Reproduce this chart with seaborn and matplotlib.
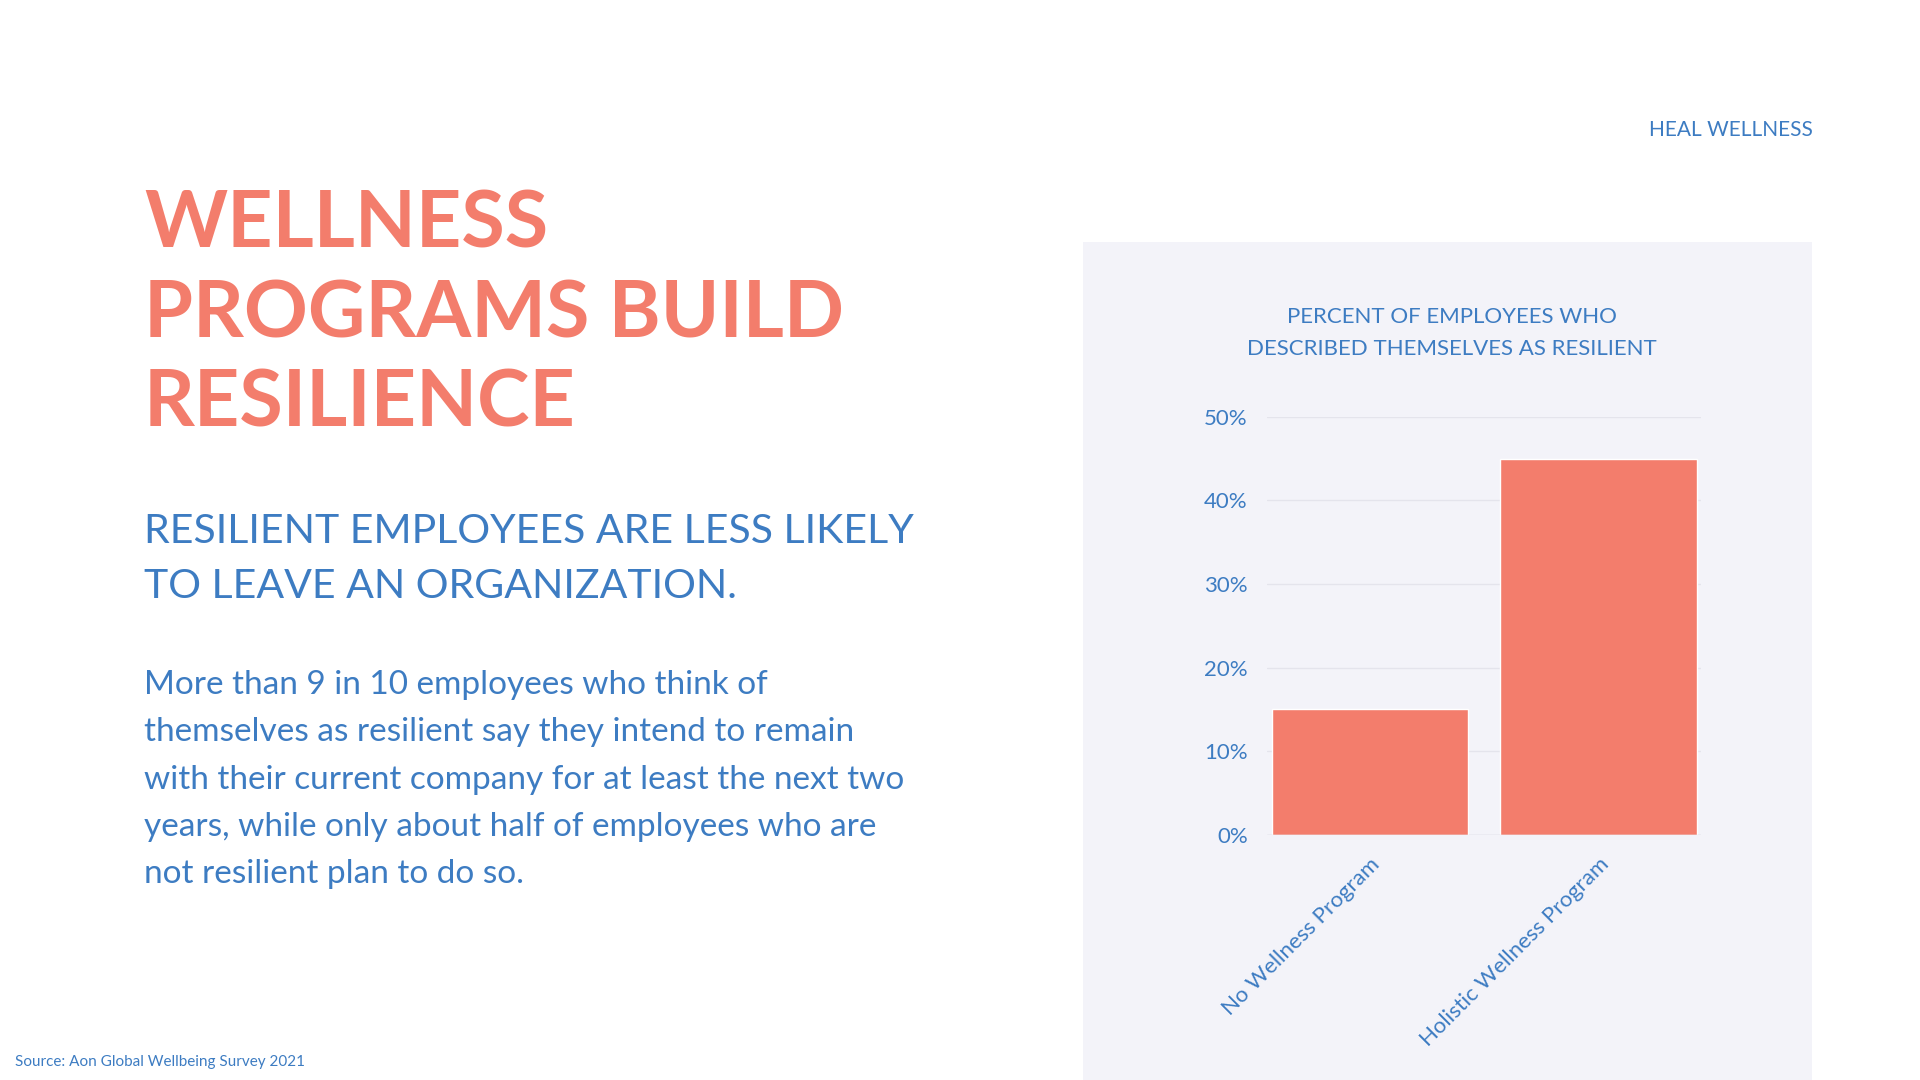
import matplotlib
matplotlib.use("Agg")
import matplotlib.pyplot as plt
import seaborn as sns
import pandas as pd

categories = ["No Wellness Program", "Holistic Wellness Program"]
values = [15, 45]
yticks = [0, 10, 20, 30, 40, 50]

coral = "#F37D6C"
blue = "#3D7CC2"

sns.set_theme(style="white")
plt.rcParams['font.family'] = ['Lato', 'DejaVu Sans']

fig = plt.figure(figsize=(19.2, 10.8), dpi=100)
fig.patch.set_facecolor("#FFFFFF")

# grey panel behind the chart
panel = fig.add_axes([0.564, 0.0, 0.38, 0.776], zorder=0)
panel.set_facecolor("#F3F3F9")
panel.set_xticks([])
panel.set_yticks([])
for s in panel.spines.values():
    s.set_visible(False)

fig.text(0.944, 0.88, "HEAL WELLNESS", color=blue, fontsize=15, ha="right", va="center")
fig.text(0.075, 0.708, "WELLNESS\nPROGRAMS BUILD\nRESILIENCE", color=coral, fontsize=57,
         fontweight="bold", ha="left", va="center", linespacing=1.3)
fig.text(0.075, 0.482, "RESILIENT EMPLOYEES ARE LESS LIKELY\nTO LEAVE AN ORGANIZATION.", color=blue,
         fontsize=29.5, ha="left", va="center", linespacing=1.6)
fig.text(0.075, 0.278, "More than 9 in 10 employees who think of\nthemselves as resilient say they intend to remain\n"
         "with their current company for at least the next two\nyears, while only about half of employees who are\n"
         "not resilient plan to do so.", color=blue, fontsize=24, ha="left", va="center", linespacing=1.72)
fig.text(0.008, 0.017, "Source: Aon Global Wellbeing Survey 2021", color=blue, fontsize=11, ha="left", va="center")
fig.text(0.756, 0.692, "PERCENT OF EMPLOYEES WHO\nDESCRIBED THEMSELVES AS RESILIENT", color=blue,
         fontsize=16, ha="center", va="center", linespacing=1.75)

ax = fig.add_axes([0.660, 0.227, 0.226, 0.387], zorder=1)
ax.set_facecolor("none")
df = pd.DataFrame({"cat": categories, "val": values})
sns.barplot(data=df, x="cat", y="val", color=coral, width=0.86, saturation=1, ax=ax)
ax.set_xlim(-0.45, 1.45)
ax.set_ylim(0, 50)
ax.set_yticks(yticks)
ax.set_yticklabels([f"{v}%" for v in yticks], color=blue, fontsize=16)
ax.yaxis.grid(True, color="#E4E4EC", linewidth=1)
ax.set_axisbelow(True)
ax.set_xticks(range(len(categories)))
ax.set_xticklabels(categories, rotation=45, ha="right", rotation_mode="anchor", color=blue, fontsize=16)
ax.set_xlabel("")
ax.set_ylabel("")
ax.tick_params(axis="both", length=0, pad=14)
for s in ax.spines.values():
    s.set_visible(False)
ax.axhline(0, color="#D8D8E2", linewidth=1)

fig.savefig("out.png", dpi=100)
